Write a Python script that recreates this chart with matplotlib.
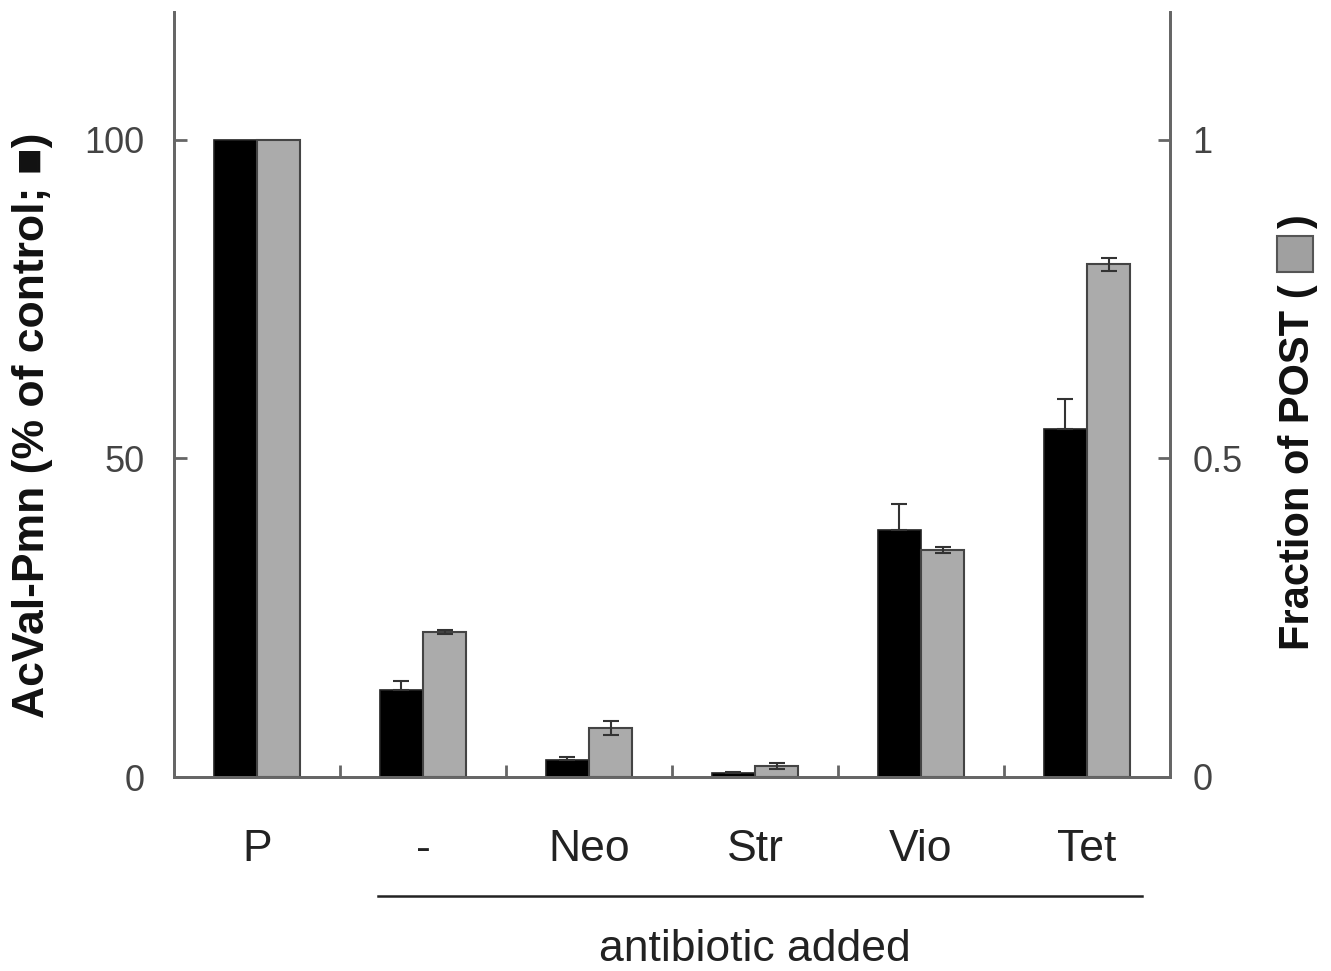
import matplotlib
matplotlib.use("Agg")
import matplotlib.pyplot as plt
from matplotlib.patches import Rectangle
import numpy as np

categories = ["P", "-", "Neo", "Str", "Vio", "Tet"]
acval_pct = [100, 13.7, 2.7, 0.7, 38.7, 54.6]
acval_err = [0, 1.3, 0.4, 0.1, 4.2, 4.7]
post_frac = [1.0, 0.228, 0.077, 0.017, 0.356, 0.804]
post_err = [0, 0.003, 0.011, 0.005, 0.005, 0.01]

plt.rcParams['font.family'] = ['Liberation Sans', 'DejaVu Sans']

W, H = 1331, 971
fig = plt.figure(figsize=(W/100, H/100), dpi=100)
ax = fig.add_axes([174/W, 1-777/H, (1170-174)/W, (777-12)/H])
ax2 = ax.twinx()

x = np.arange(len(categories))
w = 0.26
spine_col = "#666666"
ax.bar(x - w/2, acval_pct, w, color="black", edgecolor="#222222", linewidth=1.2, zorder=2)
ax.errorbar(x[1:] - w/2, acval_pct[1:], yerr=[np.zeros(5), acval_err[1:]], fmt="none",
            ecolor="#333333", elinewidth=1.5, capsize=6, capthick=1.5, zorder=3)
ax2.bar(x + w/2, post_frac, w, color="#ababab", edgecolor="#444444", linewidth=1.5, zorder=2)
ax2.errorbar(x[1:] + w/2, post_frac[1:], yerr=post_err[1:], fmt="none",
             ecolor="#333333", elinewidth=1.5, capsize=6, capthick=1.5, zorder=3)

ax.set_xlim(-0.5, 5.5)
ax.set_ylim(0, 120)
ax2.set_ylim(0, 1.2)
ax.set_yticks([0, 50, 100])
ax.set_yticklabels(["0", "50", "100"])
ax2.set_yticks([0, 0.5, 1])
ax2.set_yticklabels(["0", "0.5", "1"])
ax.set_xticks(np.arange(0.5, 5.5, 1))
ax.set_xticklabels([])

for a in (ax, ax2):
    a.spines["top"].set_visible(False)
    for s in ("left", "right", "bottom"):
        a.spines[s].set_color(spine_col)
        a.spines[s].set_linewidth(2)
ax.tick_params(axis="y", direction="in", length=9, width=2, color=spine_col,
               labelsize=26, labelcolor="#444444", pad=21)
ax2.tick_params(axis="y", direction="in", length=9, width=2, color=spine_col,
                labelsize=26, labelcolor="#444444", pad=16)
ax.tick_params(axis="x", direction="in", length=9, width=2, color=spine_col)

for xi, c in zip(x, categories):
    ax.text(xi, -0.095, c, transform=ax.get_xaxis_transform(), ha="center", va="center",
            fontsize=32, color="#222222")

ax.plot([1 - 0.27, 5.33], [-0.155, -0.155], transform=ax.get_xaxis_transform(),
        color="#222222", linewidth=1.8, clip_on=False)
ax.text(3, -0.225, "antibiotic added", transform=ax.get_xaxis_transform(), ha="center",
        va="center", fontsize=32, color="#222222")

fig.text(33/W, 1-425/H, "AcVal-Pmn (% of control; \u25a0)", rotation=90, ha="center",
         va="center", fontsize=32, fontweight="bold", color="#111111")

# right label: text, gray square, closing paren
rx = 1298/W
t1 = fig.text(rx, 1-650/H, "Fraction of POST (", rotation=90, ha="center", va="bottom",
              fontsize=30, fontweight="bold", color="#111111")
fig.canvas.draw()
bb = t1.get_window_extent(fig.canvas.get_renderer())
top = bb.y1  # pixels from bottom
sq = 36
gap = 12
fig.patches.append(Rectangle(((1295 - sq/2)/W, (top + gap)/H), sq/W, sq/H, transform=fig.transFigure,
                             facecolor="#a0a0a0", edgecolor="#555555", linewidth=1.5))
fig.text(rx, (top + sq + 2*gap - 4)/H, ")", rotation=90, ha="center", va="bottom",
         fontsize=30, fontweight="bold", color="#111111")

fig.savefig("out.png", dpi=100)
